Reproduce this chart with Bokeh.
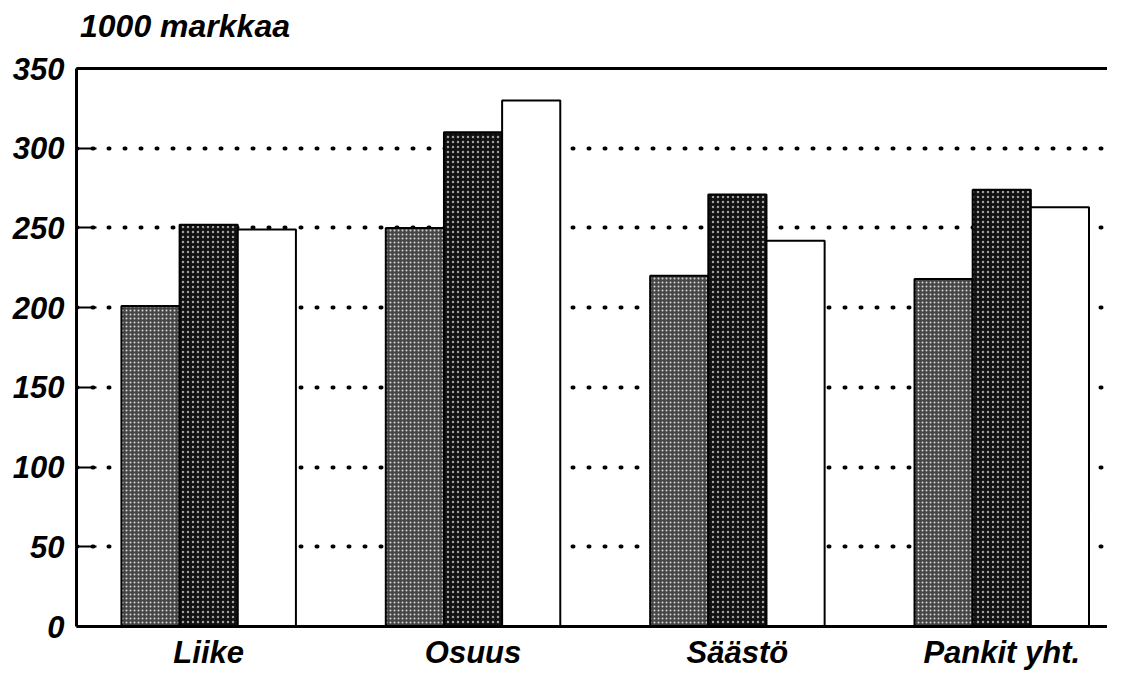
from bokeh.plotting import figure
from bokeh.models import Range1d, FixedTicker, LinearAxis, ColumnDataSource, Div
from bokeh.layouts import column
from bokeh.embed import file_html
from bokeh.resources import INLINE

categories = ["Liike", "Osuus", "Säästö", "Pankit yht."]
series1 = [201, 250, 220, 218]
series2 = [252, 310, 271, 274]
series3 = [249, 330, 242, 263]
y_ticks = [0, 50, 100, 150, 200, 250, 300, 350]
title_text = "1000 markkaa"

FONT = "Liberation Sans"

head = Div(text=title_text, width=1107, height=44, margin=(0, 0, 0, 0),
           styles={"font-family": FONT, "font-size": "32px", "font-style": "italic",
                   "font-weight": "bold", "color": "black", "padding-left": "80px",
                   "padding-top": "6px", "line-height": "40px", "box-sizing": "border-box"})

p = figure(width=1107, height=628, output_backend="svg", toolbar_location=None,
           x_range=Range1d(0, 3.90), y_range=Range1d(0, 350),
           min_border_left=76, min_border_right=0, min_border_top=24, min_border_bottom=40,
           x_axis_location="below", margin=(0, 0, 0, 0))
p.outline_line_color = None
p.background_fill_color = "white"
p.border_fill_color = "white"

offsets = [-0.22, 0.0, 0.22]
width = 0.22
styles = [
    dict(fill_color="#454545", hatch_pattern="dot", hatch_color="#d8d8d8", hatch_scale=4, hatch_weight=1.4),
    dict(fill_color="#111111", hatch_pattern="dot", hatch_color="#a0a0a0", hatch_scale=5, hatch_weight=1.0),
    dict(fill_color="white"),
]
for s, off, st in zip([series1, series2, series3], offsets, styles):
    src = ColumnDataSource(dict(x=[i + 0.5 + off for i in range(len(categories))], top=s))
    p.vbar(x="x", top="top", width=width, bottom=0, source=src,
           line_color="black", line_width=2, **st)

# grid
p.xgrid.visible = False
p.ygrid.ticker = FixedTicker(ticks=[t for t in y_ticks if 0 < t < 350])
p.ygrid.grid_line_color = "black"
p.ygrid.grid_line_width = 4
p.ygrid.grid_line_dash = "1 15"
p.ygrid.grid_line_cap = "round"

# y axis
ya = p.yaxis[0]
ya.ticker = FixedTicker(ticks=y_ticks)
ya.axis_line_width = 3
ya.axis_line_color = "black"
ya.major_tick_in = 20
ya.major_tick_out = 0
ya.major_tick_line_width = 2
ya.major_tick_line_color = "black"
ya.minor_tick_line_color = None
ya.major_label_text_font = FONT
ya.major_label_text_font_style = "bold italic"
ya.major_label_text_font_size = "31px"
ya.major_label_text_color = "black"
ya.major_label_standoff = 12

# x axis
xa = p.xaxis[0]
xa.ticker = FixedTicker(ticks=[i + 0.5 for i in range(len(categories))])
xa.major_label_overrides = {i + 0.5: c for i, c in enumerate(categories)}
xa.axis_line_width = 3
xa.axis_line_color = "black"
xa.major_tick_line_color = None
xa.minor_tick_line_color = None
xa.major_label_text_font = FONT
xa.major_label_text_font_style = "bold italic"
xa.major_label_text_font_size = "31px"
xa.major_label_text_color = "black"
xa.major_label_standoff = 2

# top border
top = LinearAxis(ticker=FixedTicker(ticks=[]), axis_line_width=3, axis_line_color="black",
                 major_tick_line_color=None, minor_tick_line_color=None,
                 major_label_text_font_size="0px", major_label_standoff=0)
p.add_layout(top, "above")

layout = column(head, p, spacing=0)
open("out.html", "w").write(file_html(layout, INLINE))
